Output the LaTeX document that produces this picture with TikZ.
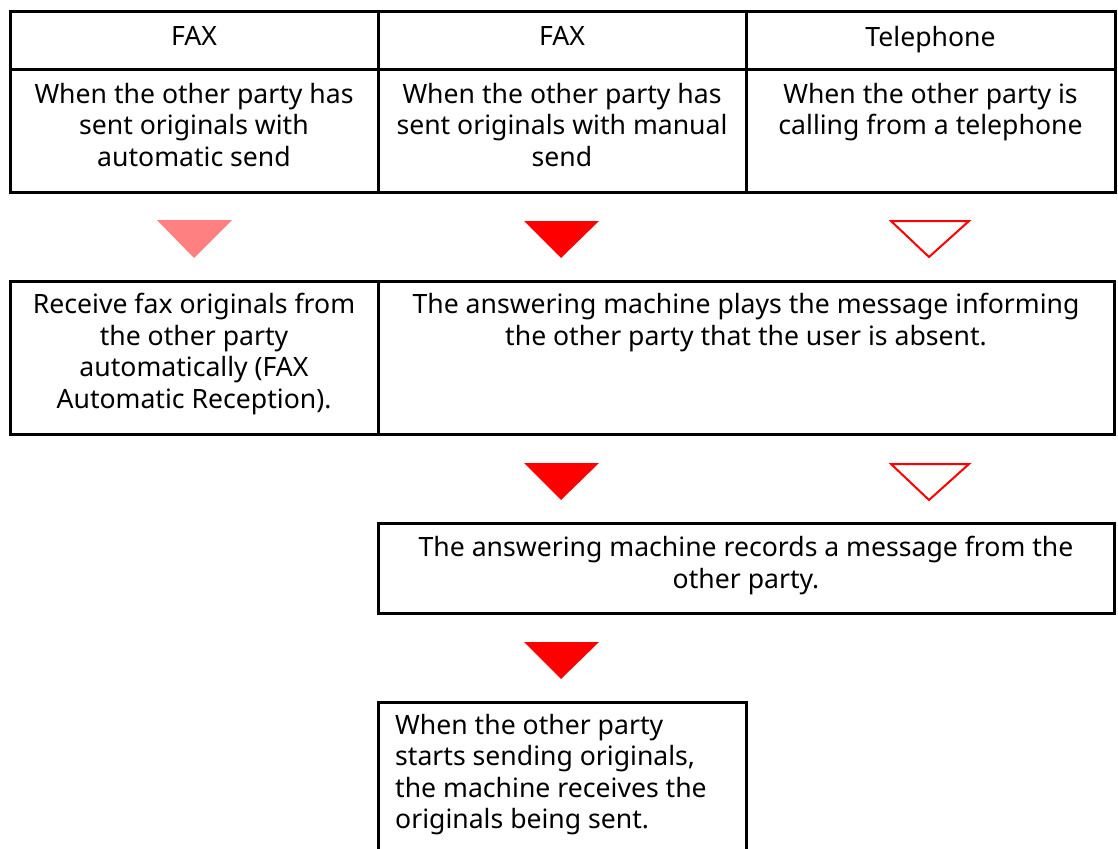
\documentclass[tikz,border=0pt]{standalone}
\usepackage{fontspec}
\setmainfont{Noto Sans}
\usetikzlibrary{positioning}

\tikzset{
  cell/.style={draw, line width=3pt, outer sep=0pt, inner sep=0pt, anchor=north west},
  txt/.style={align=center, inner sep=0pt},
  arrfull/.style={fill=red},
  arrlight/.style={fill=red!50},
  arropen/.style={draw=red, line width=2pt, line join=miter},
}

\begin{document}
\begin{tikzpicture}[x=1pt, y=-1pt, every node/.style={font=\fontsize{26.6}{31.5}\selectfont}]
  \useasboundingbox (0,0) rectangle (1118,848);
  % header row
  \node[cell, minimum width=368pt, minimum height=58pt] (h1) at (10,12) {};
  \node[cell, minimum width=368pt, minimum height=58pt] (h2) at (378,12) {};
  \node[cell, minimum width=369pt, minimum height=58pt] (h3) at (746,12) {};
  \node[txt, below=14pt of h1.north] (h1t) {FAX};
  \node[txt, below=14pt of h2.north] (h2t) {FAX};
  \node[txt, below=14pt of h3.north] (h3t) {Telephone};
  % cases
  \node[cell, minimum width=368pt, minimum height=122pt] (b1) at (10,70) {};
  \node[cell, minimum width=368pt, minimum height=122pt] (b2) at (378,70) {};
  \node[cell, minimum width=369pt, minimum height=122pt] (b3) at (746,70) {};
  \node[txt, below=13pt of b1.north] (b1t) {When the other party has\\sent originals with\\automatic send};
  \node[txt, below=13pt of b2.north] (b2t) {When the other party has\\sent originals with manual\\send};
  \node[txt, below=13pt of b3.north] (b3t) {When the other party is\\calling from a telephone};
  % first arrows
  \fill[arrlight] (157,220) -- (232,220) -- (194,258) -- cycle;
  \fill[arrfull] (524,221) -- (599,221) -- (561,258) -- cycle;
  \draw[arropen] (891,221) -- (969,221) -- (929,257) -- cycle;
  % second row
  \node[cell, minimum width=368pt, minimum height=153pt] (r1) at (10,281) {};
  \node[cell, minimum width=736pt, minimum height=153pt] (r2) at (378,281) {};
  \node[txt, below=12pt of r1.north] (r1t) {Receive fax originals from\\the other party\\automatically (FAX\\Automatic Reception).};
  \node[txt, below=12pt of r2.north] (r2t) {The answering machine plays the message informing\\the other party that the user is absent.};
  % second arrows
  \fill[arrfull] (524,463) -- (599,463) -- (561,500) -- cycle;
  \draw[arropen] (891,464) -- (969,464) -- (929,500) -- cycle;
  % recording
  \node[cell, minimum width=736pt, minimum height=90pt] (m1) at (378,523) {};
  \node[txt, below=13pt of m1.north] (m1t) {The answering machine records a message from the\\other party.};
  % third arrow
  \fill[arrfull] (524,642) -- (599,642) -- (561,679) -- cycle;
  % reception
  \node[cell, minimum width=368pt, minimum height=160pt] (f1) at (378,702) {};
  \node[txt, align=left, anchor=north west] (f1t) at (395,714) {When the other party\\starts sending originals,\\the machine receives the\\originals being sent.};
\end{tikzpicture}
\end{document}
